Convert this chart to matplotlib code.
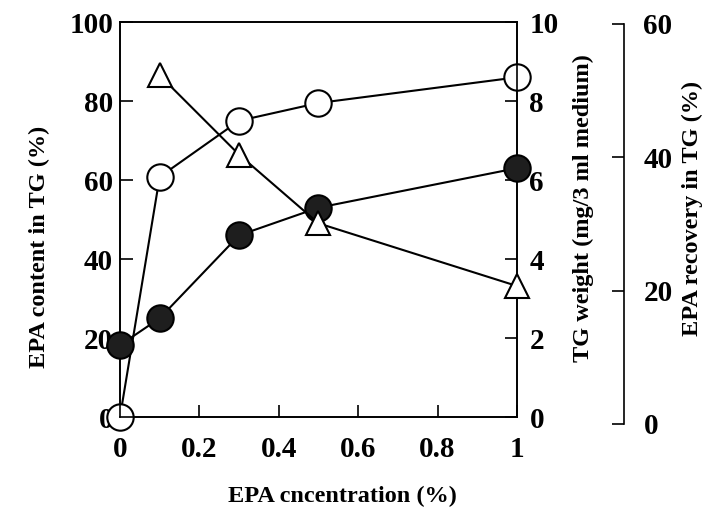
import matplotlib.pyplot as plt

plt.rcParams['font.family'] = ['Liberation Serif', 'DejaVu Serif']
plt.rcParams['font.weight'] = 'bold'

conc = [0, 0.1, 0.3, 0.5, 1]
epa_content = [0, 60.8, 75, 79.5, 86]          # open circles, left axis
tg_weight = [1.82, 2.5, 4.6, 5.3, 6.3]          # filled circles, TG weight axis
rec_conc = [0.1, 0.3, 0.5, 1]
epa_recovery = [52.3, 40.4, 30.1, 20.7]         # triangles, recovery axis

x_ticks = [0, 0.2, 0.4, 0.6, 0.8, 1]
x_labels = ['0', '0.2', '0.4', '0.6', '0.8', '1']

fig = plt.figure(figsize=(7.15, 5.17), dpi=100)
ax = fig.add_axes([0.1678, 0.1934, 0.5552, 0.764])
ax2 = ax.twinx()
ax3 = fig.add_axes([0.1678, 0.1799, 0.5552, 0.7737], sharex=ax)
ax3.patch.set_visible(False)

lw = 1.5
ms = 19
ax.plot(conc, epa_content, color='black', lw=lw, marker='o', ms=ms,
        mfc='white', mec='black', mew=1.5, clip_on=False, zorder=3)
ax2.plot(conc, tg_weight, color='black', lw=lw, marker='o', ms=ms,
         mfc='#1e1e1e', mec='black', mew=1.5, clip_on=False, zorder=3)
ax3.plot(rec_conc, epa_recovery, color='black', lw=lw, marker='^', ms=17,
         mfc='white', mec='black', mew=1.5, clip_on=False, zorder=3)

ax.set_xlim(0, 1)
ax.set_ylim(0, 100)
ax2.set_ylim(0, 10)
ax3.set_ylim(0, 60)

ax.set_xticks(x_ticks)
ax.set_xticklabels(x_labels)
ax.set_yticks([0, 20, 40, 60, 80, 100])
ax2.set_yticks([0, 2, 4, 6, 8, 10])
ax3.set_yticks([0, 20, 40, 60])

tick_kw = dict(direction='in', length=9, width=1.2, labelsize=21)
ax.tick_params(axis='both', pad=5, **tick_kw)
ax.tick_params(axis='x', pad=14)
ax2.tick_params(axis='y', pad=9, **tick_kw)
ax3.tick_params(axis='y', left=False, labelleft=False, right=True,
                labelright=True, pad=14, **tick_kw)
ax3.tick_params(axis='x', bottom=False, labelbottom=False)

for s in ['left', 'top', 'bottom']:
    ax3.spines[s].set_visible(False)
ax3.spines['right'].set_position(('outward', 107 * 72 / 100))
ax3.spines['right'].set_linewidth(1.2)
for a in (ax, ax2):
    for s in a.spines.values():
        s.set_linewidth(1.2)

lab_fs = 17.5
ax.set_xlabel('EPA cncentration (%)', fontsize=lab_fs, fontweight='bold')
ax.xaxis.set_label_coords(0.56, -0.175)
ax.set_ylabel('EPA content in TG (%)', fontsize=lab_fs, fontweight='bold')
ax.yaxis.set_label_coords(-0.175, 0.43)
ax2.set_ylabel('TG weight (mg/3 ml medium)', fontsize=lab_fs, fontweight='bold')
ax2.yaxis.set_label_coords(1.14, 0.53)
ax3.set_ylabel('EPA recovery in TG (%)', fontsize=lab_fs, fontweight='bold')
ax3.yaxis.set_label_position('right')
ax3.yaxis.set_label_coords(1.415, 0.54)

fig.savefig('out.png', dpi=100)
